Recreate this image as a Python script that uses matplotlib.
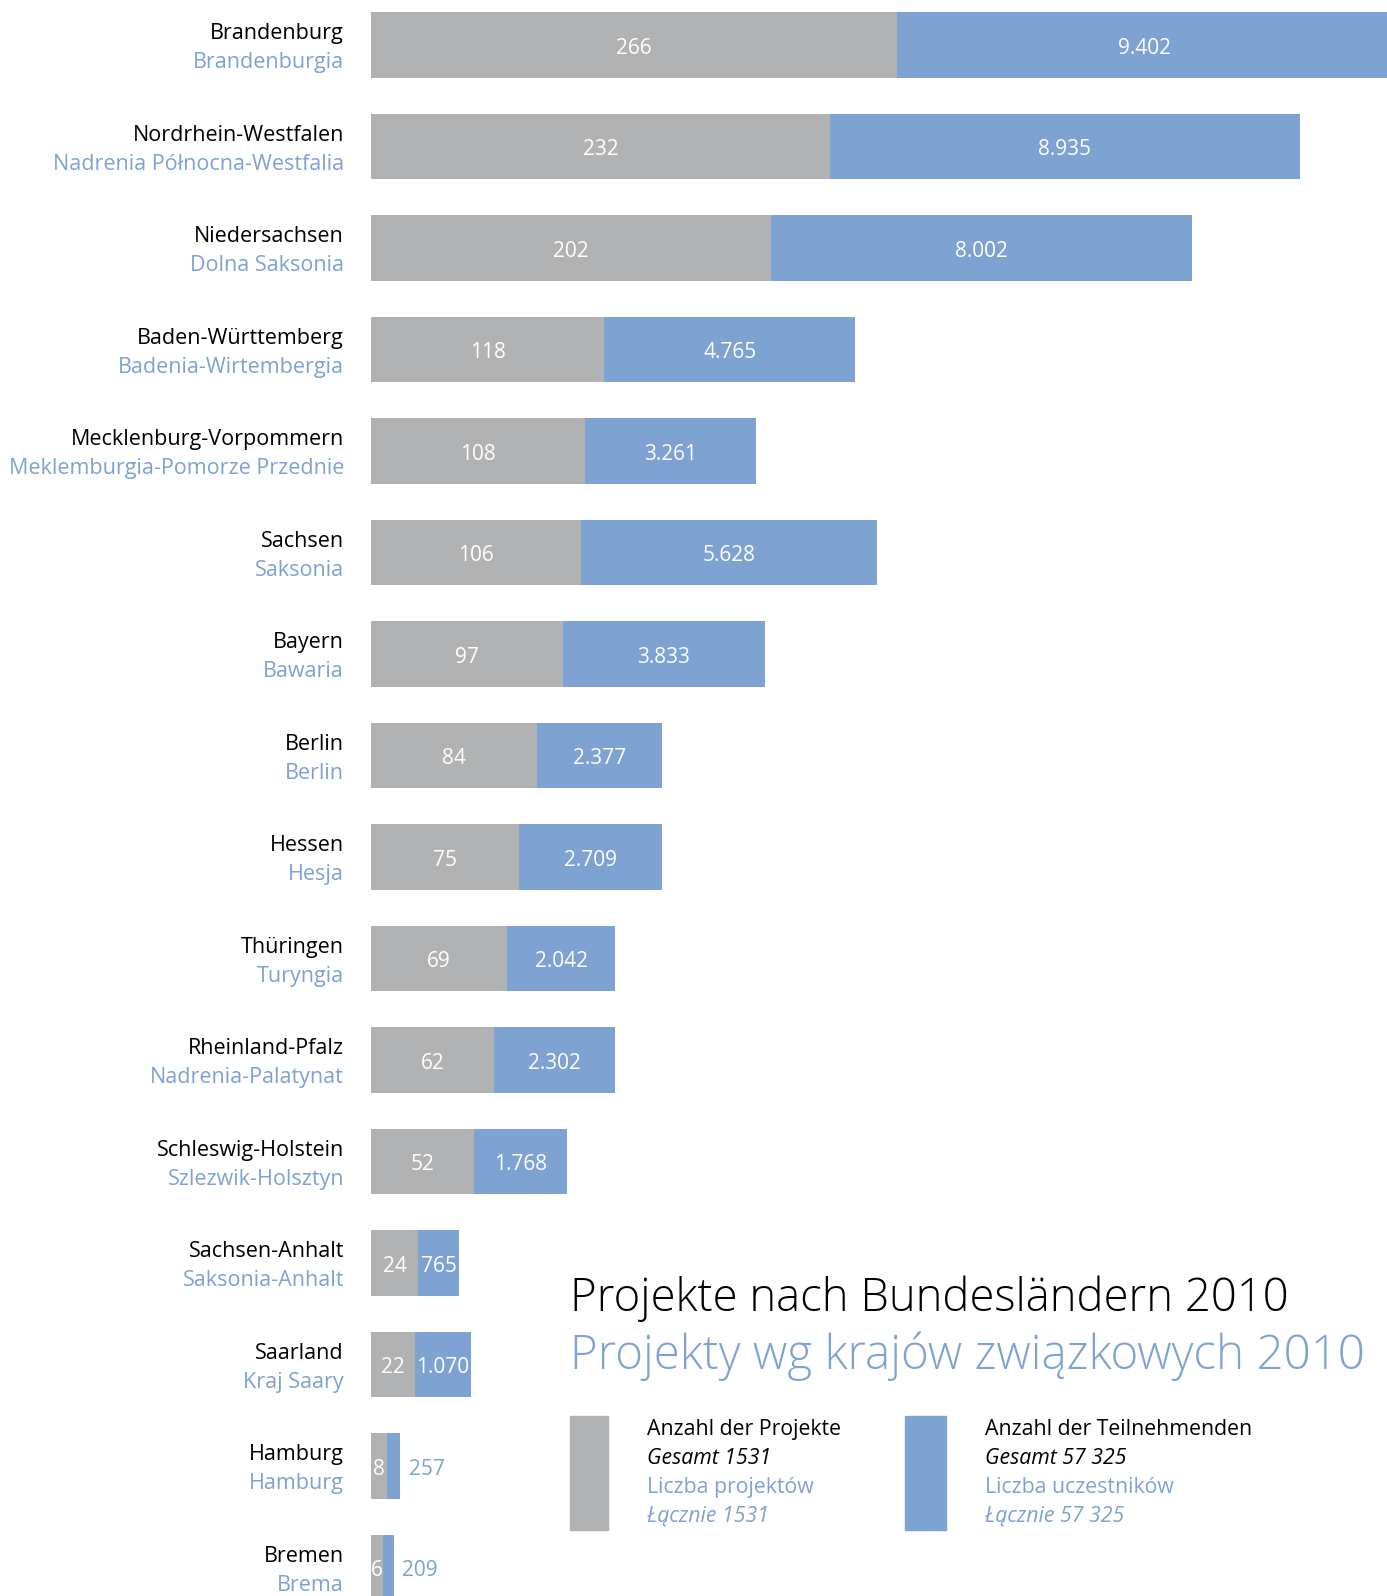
import numpy as np
import matplotlib.pyplot as plt

states_de = ['Brandenburg', 'Nordrhein-Westfalen', 'Niedersachsen', 'Baden-Württemberg',
             'Mecklenburg-Vorpommern', 'Sachsen', 'Bayern', 'Berlin', 'Hessen', 'Thüringen',
             'Rheinland-Pfalz', 'Schleswig-Holstein', 'Sachsen-Anhalt', 'Saarland',
             'Hamburg', 'Bremen']
states_pl = ['Brandenburgia', 'Nadrenia Północna-Westfalia', 'Dolna Saksonia',
             'Badenia-Wirtembergia', 'Meklemburgia-Pomorze Przednie', 'Saksonia', 'Bawaria',
             'Berlin', 'Hesja', 'Turyngia', 'Nadrenia-Palatynat', 'Szlezwik-Holsztyn',
             'Saksonia-Anhalt', 'Kraj Saary', 'Hamburg', 'Brema']
projects = [266, 232, 202, 118, 108, 106, 97, 84, 75, 69, 62, 52, 24, 22, 8, 6]
participants = [9402, 8935, 8002, 4765, 3261, 5628, 3833, 2377, 2709, 2042, 2302, 1768,
                765, 1070, 257, 209]

GRAY = '#b1b2b4'
BLUE = '#7ea2d2'
plt.rcParams['font.family'] = ['Open Sans', 'DejaVu Sans']

W, H = 1387, 1596
fig = plt.figure(figsize=(W / 100, H / 100), dpi=100)

# bars: gray in project units, blue scaled to share the axis
scale = 0.0266
row = 101.5
left = 371
ax = fig.add_axes([left / W, 0, 1 - left / W, 1])
ax.set_xlim(0, (W - left) / 1.978)
ax.set_ylim((H - 44.8) / row, -44.8 / row)
ax.axis('off')

y = np.arange(len(projects))
proj = np.array(projects)
part = np.array(participants) * scale
ax.barh(y, proj, height=0.645, color=GRAY, clip_on=False)
ax.barh(y, part, left=proj, height=0.645, color=BLUE)

dy = 3.5 / row  # text sits a bit lower than the bar centre
for i in range(len(projects)):
    ax.text(proj[i] / 2, y[i] + dy, str(projects[i]), color='white', fontsize=15,
            ha='center', va='center')
    lbl = f'{participants[i]:,}'.replace(',', '.')
    if part[i] * 1.978 < 40:
        ax.annotate(lbl, (proj[i] + part[i], y[i] + dy), xytext=(6, 0),
                    textcoords='offset points', color=BLUE, fontsize=15,
                    ha='left', va='center')
    else:
        ax.text(proj[i] + part[i] / 2, y[i] + dy, lbl, color='white', fontsize=15,
                ha='center', va='center')

# state names on the left
for i in range(len(states_de)):
    yc = 44.8 + i * row + 3.5
    fig.text(344 / W, 1 - (yc - 14.5) / H, states_de[i], ha='right', va='center',
             fontsize=15.5, color='black')
    fig.text(344 / W, 1 - (yc + 14.5) / H, states_pl[i], ha='right', va='center',
             fontsize=15.5, color=BLUE)

# title
fig.text(570 / W, 1 - 1299 / H, 'Projekte nach Bundesländern 2010', fontsize=32.8,
         fontweight='light', color='black', ha='left', va='center')
fig.text(570 / W, 1 - 1356 / H, 'Projekty wg krajów związkowych 2010', fontsize=34.2,
         fontweight='light', color=BLUE, ha='left', va='center')

# legend
fig.patches.append(plt.Rectangle((570 / W, 1 - 1530 / H), 38 / W, 114 / H,
                                 transform=fig.transFigure, color=GRAY))
fig.patches.append(plt.Rectangle((905 / W, 1 - 1530 / H), 41 / W, 114 / H,
                                 transform=fig.transFigure, color=BLUE))
leg = [
    (647, ['Anzahl der Projekte', 'Gesamt 1531', 'Liczba projektów', 'Łącznie 1531']),
    (985, ['Anzahl der Teilnehmenden', 'Gesamt 57 325', 'Liczba uczestników',
           'Łącznie 57 325']),
]
for x, lines in leg:
    for j, t in enumerate(lines):
        fig.text(x / W, 1 - (1429.5 + j * 29) / H, t, fontsize=15.3,
                 color='black' if j < 2 else BLUE,
                 style='italic' if j % 2 else 'normal', ha='left', va='center')

fig.savefig('out.png', dpi=100)
